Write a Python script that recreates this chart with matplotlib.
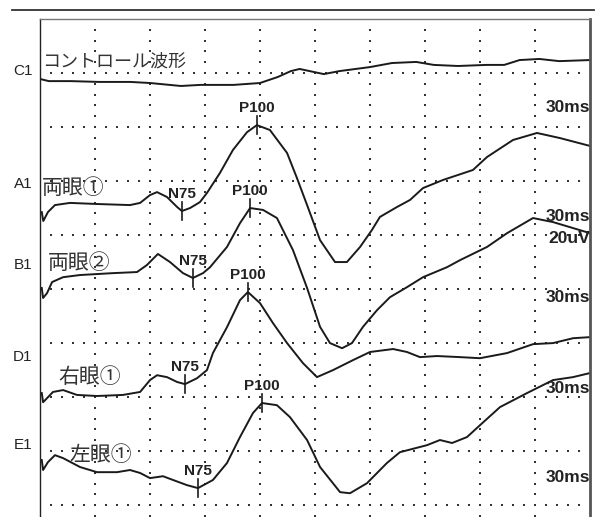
import numpy as np
import matplotlib.pyplot as plt
from matplotlib.lines import Line2D

plt.rcParams['font.family'] = ['Liberation Sans', 'DejaVu Sans']
jp = ['Noto Sans CJK JP', 'DejaVu Sans']

# 時間 (ms) と 振幅 (uV)、スキャンから読み取り
c1_t = [0, 4, 14, 27, 41, 50, 64, 73, 88, 100, 108, 114, 118, 129, 136, 150, 160, 171, 179, 190, 203, 211, 218, 227, 236, 250]
c1_v = [-2.2, -3.0, -3.0, -3.3, -3.3, -3.7, -4.8, -4.4, -4.4, -3.7, -1.5, 0.7, 1.5, -0.4, 0.7, 2.2, 3.7, 4.1, 3.0, 2.6, 3.0, 3.0, 4.8, 5.2, 4.4, 4.8]

a1_t = [0.8, 1.5, 3.6, 6.8, 13.6, 25.9, 40.9, 45.5, 50, 53.2, 57.7, 62.3, 64.5, 68.2, 72.7, 75.9, 81.8, 87.7, 94.1, 98.6, 104.5,
        112.3, 116.8, 121.4, 127.3, 134.1, 139.5, 145.5, 150.9, 154.5, 162.3, 168.2, 174.1, 183.2, 196.8, 203.2, 215, 225.9, 236.4, 250]
a1_v = [-10.5, -13.8, -10.5, -7.9, -7.1, -7.5, -7.9, -7.1, -4.2, -3.1, -4.9, -8.6, -10.1, -9.0, -6.8, -3.4, 4.0, 12.5, 19.1, 21.7, 19.9,
        11.4, 2.1, -7.9, -20.9, -29.0, -29.0, -23.4, -17.1, -12.3, -8.6, -6.0, -1.6, 1.4, 5.1, 9.9, 16.2, 18.8, 16.9, 14.0]

b1_t = [0.8, 1.4, 3.2, 5.5, 10.5, 18.2, 33.2, 44.1, 48.6, 53.6, 59.1, 65, 69.5, 74.1, 77.3, 85, 90.9, 95.5, 101.4, 107.7,
        115, 121.4, 127.3, 131.8, 137.3, 141.8, 146.8, 153.2, 159.1, 166.8, 174.1, 185, 190.9, 203.2, 212.3, 224.1, 233.2, 250]
b1_v = [-17.6, -21.3, -19.5, -15.4, -13.6, -12.8, -12.1, -11.7, -9.1, -5.0, -8.0, -12.1, -13.9, -12.1, -9.9, -2.4, 6.4, 12.0, 11.3, 8.3,
        -3.6, -17.6, -32.0, -38.0, -39.9, -38.0, -32.0, -25.8, -21.0, -17.3, -13.6, -9.9, -7.3, -2.4, 2.7, 8.3, 6.8, 2.7]

d1_t = [0.8, 1.4, 3.2, 5.9, 10.5, 16.8, 25.9, 37.7, 45.5, 50, 53.2, 57.7, 62.3, 65.9, 71.4, 75.9, 78.6, 85, 90.9, 94.5, 100,
        105.9, 112.3, 119.5, 125.9, 133.2, 142.3, 150, 160.5, 166.8, 172.7, 180.5, 190.9, 200, 212.3, 224.1, 233.2, 242.3, 250]
d1_v = [-15.5, -18.9, -17.4, -15.1, -14.4, -16.2, -16.6, -16.2, -15.1, -10.7, -8.9, -9.6, -11.4, -12.2, -10.0, -7.0, -0.7, 8.9, 18.9, 21.9, 17.8,
        10.4, 3.0, -4.4, -9.6, -7.0, -3.3, -0.3, 0.8, -0.3, -2.2, -1.8, -2.2, -2.6, -0.7, 2.6, 3.0, 4.8, 5.2]

e1_t = [0.8, 1.4, 3.6, 6.8, 10.5, 18.2, 25.9, 35, 40.9, 45.5, 50, 55.9, 60.5, 66.8, 71.8, 78.6, 85, 90.9, 96.8, 100.9, 107.7,
        113.6, 121.4, 127.3, 136.4, 140.9, 148.6, 157.7, 163.6, 175.9, 181.8, 187.3, 194.1, 200, 209.1, 221.4, 233.2, 242.3, 250]
e1_v = [-7.3, -11.0, -8.1, -5.5, -6.6, -9.9, -11.8, -11.8, -11.0, -12.1, -14.0, -13.3, -14.7, -16.6, -17.7, -14.7, -8.4, 1.2, 10.1, 13.8, 13.0,
        8.6, 0.1, -9.9, -19.2, -19.6, -15.9, -8.4, -4.4, -1.8, 0.1, -1.0, 1.2, 5.6, 12.3, 17.5, 22.3, 23.4, 24.9]

channels = ['C1', 'A1', 'B1', 'D1', 'E1']
offsets = [-20, -61, -82, -123, -156]
label_y = [-19.3, -61.1, -91.1, -125.2, -157.8]
traces = [(c1_t, c1_v), (a1_t, a1_v), (b1_t, b1_v), (d1_t, d1_v), (e1_t, e1_v)]

# N75 / P100 マーカー (ms, uV)
n75 = {'A1': (64.5, -10.1), 'B1': (69.5, -13.9), 'D1': (65.9, -12.2), 'E1': (71.8, -17.7)}
p100 = {'A1': (98.6, 21.7), 'B1': (95.5, 12.0), 'D1': (94.5, 21.9), 'E1': (100.9, 13.8)}

notes = ['コントロール波形', '両眼①', '両眼②', '右眼①', '左眼①']
note_pos = [(0.9, -15.9), (0.9, -62.6), (3.6, -90.4), (8.2, -132.6), (13.6, -161.5)]
note_size = [13, 15, 15, 15, 15]

ms_y = [-32.6, -73.3, -103.3, -136.7, -169.6]

fig = plt.figure(figsize=(6.02, 5.17), dpi=100)
ax = fig.add_axes([40 / 602, 0, 550 / 602, 498 / 517])
ax.set_xlim(0, 250)
ax.set_ylim(-184.4, 0)
ax.set_xticks([])
ax.set_yticks([])
for s in ['bottom']:
    ax.spines[s].set_visible(False)
ax.spines['left'].set_linewidth(1.0)
ax.spines['left'].set_color('#222222')
ax.spines['right'].set_linewidth(2.0)
ax.spines['right'].set_color('#555555')
ax.spines['top'].set_linewidth(1.0)
ax.spines['top'].set_color('#777777')

# 点線グリッド
gx = np.arange(25, 250, 25)
gy = np.arange(-20, -184, -20)
for x in gx:
    yy = np.arange(-4, -184.4, -4)
    ax.scatter(np.full(len(yy), x), yy, s=2.2, marker='s', color='#333333', lw=0)
for y in gy:
    xx = np.arange(5, 250, 5)
    ax.scatter(xx, np.full(len(xx), y), s=2.2, marker='s', color='#333333', lw=0)

for ch, off, ly, (t, v) in zip(channels, offsets, label_y, traces):
    ax.plot(t, np.array(v) + off, color='#1a1a1a', lw=1.4, solid_joinstyle='round')
    ax.text(-0.031, ly, ch, transform=ax.get_yaxis_transform(), ha='center', va='center',
            fontsize=11, color='#222222')
    if ch in n75:
        for name, (mt, mv) in [('N75', n75[ch]), ('P100', p100[ch])]:
            ax.plot([mt, mt], [mv + off - 3.3, mv + off + 3.3], color='#1a1a1a', lw=1.2)
            ax.text(mt, mv + off + 3.8, name, ha='center', va='bottom', fontsize=11,
                    fontweight='bold', color='#222222')

for txt, (x, y), fs in zip(notes, note_pos, note_size):
    ax.text(x, y, txt, family=jp, fontsize=fs, ha='left', va='center', color='#333333')

for y in ms_y:
    ax.text(1.0, y, '30ms', transform=ax.get_yaxis_transform(), ha='right', va='center',
            fontsize=12.5, fontweight='bold', color='#222222')
ax.text(1.0, -81.1, '20uV', transform=ax.get_yaxis_transform(), ha='right', va='center',
        fontsize=12.5, fontweight='bold', color='#222222')

# 上の横線
fig.add_artist(Line2D([12 / 602, 594 / 602], [1 - 10 / 517, 1 - 10 / 517], color='#333333', lw=1.3))

fig.savefig('out.png', dpi=100, facecolor='white')
